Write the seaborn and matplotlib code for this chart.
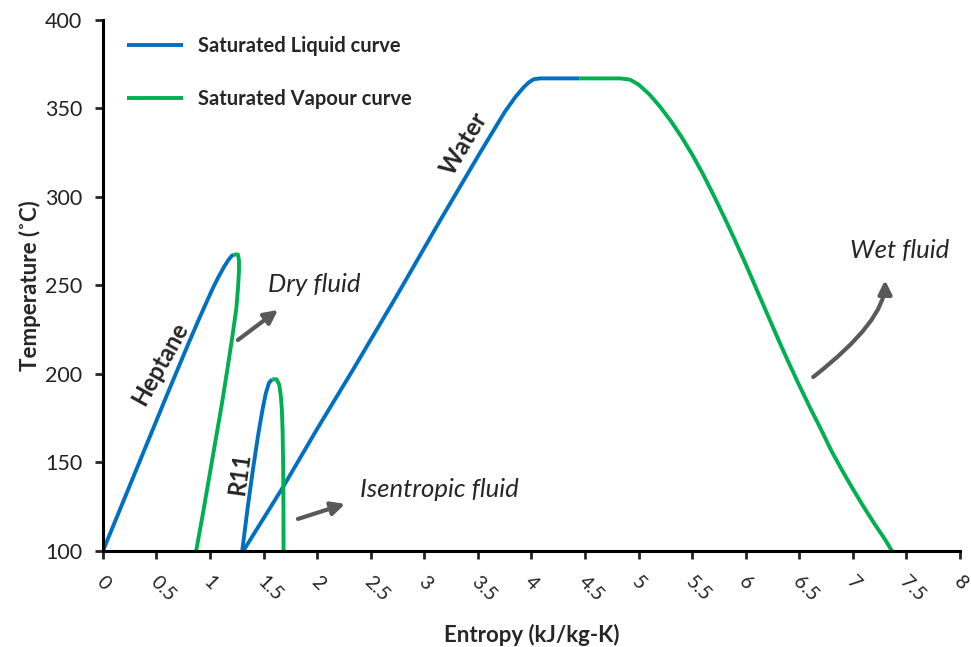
import numpy as np
import pandas as pd
import matplotlib
matplotlib.use("Agg")
import matplotlib.pyplot as plt
import seaborn as sns

# Saturation curves (entropy kJ/kg-K, temperature °C)
heptane_liq_s = [0.00, 0.20, 0.40, 0.60, 0.80, 0.90, 0.97, 1.03, 1.08, 1.13, 1.17, 1.20, 1.22]
heptane_liq_T = [100, 129.5, 159, 188.5, 217.5, 231.5, 241, 249, 255, 260.5, 264.3, 266.6, 267.5]
heptane_vap_s = [1.22, 1.26, 1.27, 1.27, 1.26, 1.245, 1.21, 1.165, 1.11, 1.05, 0.99, 0.93, 0.87]
heptane_vap_T = [267.5, 267.5, 264, 258, 248, 237, 222, 204, 183, 162, 141, 120, 100]

r11_liq_s = [1.30, 1.35, 1.40, 1.45, 1.49, 1.52, 1.55, 1.58]
r11_liq_T = [100, 124, 146, 166, 180, 189, 195, 197]
r11_vap_s = [1.58, 1.62, 1.645, 1.66, 1.67, 1.677, 1.682, 1.685, 1.686]
r11_vap_T = [197, 197, 194, 188, 180, 168, 150, 125, 100]

water_liq_s = [1.31, 1.68, 2.00, 2.34, 2.75, 3.15, 3.52, 3.75, 3.85, 3.92, 3.97, 4.02, 4.08, 4.45]
water_liq_T = [100, 136, 169, 203, 245, 287, 325, 348, 356.5, 361.5, 364.5, 366.5, 367, 367]
water_vap_s = [4.45, 4.83, 4.92, 5.00, 5.10, 5.20, 5.30, 5.40, 5.50, 5.60, 5.70, 5.80,
               5.90, 6.00, 6.10, 6.20, 6.30, 6.40, 6.50, 6.60, 6.70, 6.80, 6.90,
               7.00, 7.10, 7.20, 7.30, 7.365]
water_vap_T = [367, 367, 366.3, 363.5, 358, 351, 343, 334, 324, 313, 301, 288.5,
               275.5, 262, 248, 234, 220, 206.5, 193.5, 181, 169, 156.5, 145.5,
               135, 125, 115.5, 106.5, 100]

x_ticks = [0, 0.5, 1, 1.5, 2, 2.5, 3, 3.5, 4, 4.5, 5, 5.5, 6, 6.5, 7, 7.5, 8]
x_tick_labels = ["0", "0.5", "1", "1.5", "2", "2.5", "3", "3.5", "4", "4.5",
                 "5", "5.5", "6", "6.5", "7", "7.5", "8"]
y_ticks = [100, 150, 200, 250, 300, 350, 400]

LIQ = "Saturated Liquid curve"
VAP = "Saturated Vapour curve"

frames = []
for fluid, s, T, curve in [
    ("Heptane", heptane_liq_s, heptane_liq_T, LIQ),
    ("Heptane", heptane_vap_s, heptane_vap_T, VAP),
    ("R11", r11_liq_s, r11_liq_T, LIQ),
    ("R11", r11_vap_s, r11_vap_T, VAP),
    ("Water", water_liq_s, water_liq_T, LIQ),
    ("Water", water_vap_s, water_vap_T, VAP),
]:
    frames.append(pd.DataFrame({"s": s, "T": T, "curve": curve,
                                "trace": f"{fluid} {curve}"}))
df = pd.concat(frames, ignore_index=True)

sns.set_style("white")
plt.rcParams["font.family"] = ["Lato", "DejaVu Sans"]

fig = plt.figure(figsize=(9.71, 6.47), dpi=100)
ax = fig.add_axes([0.106, 0.1484, 0.8827, 0.8207])

sns.lineplot(data=df, x="s", y="T", hue="curve", units="trace",
             estimator=None, sort=False, ax=ax,
             palette={LIQ: "#0070C0", VAP: "#00B050"},
             linewidth=2.8, solid_capstyle="butt", solid_joinstyle="round")

ax.set_xlim(0, 8)
ax.set_ylim(100, 400)
ax.set_xticks(x_ticks)
ax.set_xticklabels([])
# slanted entropy labels, set just left of and below each tick
for xv, lab in zip(x_ticks, x_tick_labels):
    ax.annotate(lab, xy=(xv, 0), xycoords=("data", "axes fraction"),
                xytext=(-2.5, -20), textcoords="offset points",
                rotation=-45, ha="left", va="center", rotation_mode="anchor",
                fontsize=14, color="#222222", annotation_clip=False)
ax.set_yticks(y_ticks)
ax.set_yticklabels([str(v) for v in y_ticks], fontsize=15.5, color="#222222")
ax.tick_params(axis="x", length=6, width=2, direction="out")
ax.tick_params(axis="y", length=6, width=2, direction="out", pad=9)
ax.xaxis.set_ticks_position("bottom")
ax.yaxis.set_ticks_position("left")

for side in ("top", "right"):
    ax.spines[side].set_visible(False)
for side in ("left", "bottom"):
    ax.spines[side].set_linewidth(2.2)
    ax.spines[side].set_color("black")

ax.set_xlabel("Entropy (kJ/kg-K)", fontsize=16, fontweight="bold")
ax.xaxis.set_label_coords(0.5, -0.137)
ax.set_ylabel("Temperature (\u02daC)", fontsize=16, fontweight="bold", labelpad=3)

handles, labels = ax.get_legend_handles_labels()
ax.legend(handles, labels, loc="upper left", bbox_to_anchor=(0.0165, 0.989),
          frameon=False, borderpad=0, handlelength=2.75, handletextpad=0.75,
          labelspacing=1.65, prop={"weight": "bold", "size": 14.5})

# Fluid names along the liquid curves
ax.text(0.53, 206, "Heptane", rotation=61, fontsize=17, fontweight="bold",
        ha="center", va="center", rotation_mode="anchor")
ax.text(3.37, 330, "Water", rotation=59, fontsize=17.5, fontweight="bold",
        ha="center", va="center", rotation_mode="anchor")
ax.text(1.28, 143.5, "R11", rotation=82, fontsize=17, fontweight="bold",
        ha="center", va="center", rotation_mode="anchor")

# Fluid classification notes
arrow_kw = dict(arrowstyle="-|>", color="#595959", lw=3, mutation_scale=20,
                shrinkA=0, shrinkB=0)
ax.annotate("", xy=(1.634, 236.2), xytext=(1.26, 219.2), arrowprops=arrow_kw)
ax.annotate("", xy=(2.26, 126.6), xytext=(1.82, 118.1), arrowprops=arrow_kw)
ax.annotate("", xy=(7.30, 253), xytext=(6.63, 198.3),
            arrowprops=dict(arrow_kw, connectionstyle="angle3,angleA=38,angleB=90"))

ax.text(1.54, 250.3, "Dry fluid", fontsize=18.5, fontstyle="italic",
        ha="left", va="center")
ax.text(2.40, 134.5, "Isentropic fluid", fontsize=18.5, fontstyle="italic",
        ha="left", va="center")
ax.text(6.975, 270, "Wet fluid", fontsize=18.5, fontstyle="italic",
        ha="left", va="center")

fig.savefig("out.png", dpi=100)
